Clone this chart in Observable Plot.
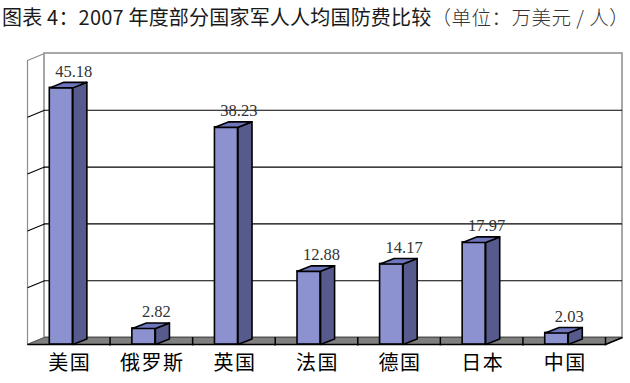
<!DOCTYPE html>
<html>
<head>
<meta charset="utf-8">
<script src="https://cdn.jsdelivr.net/npm/d3@7"></script>
<script src="https://cdn.jsdelivr.net/npm/@observablehq/plot@0.6"></script>
<style>
  html, body { margin: 0; padding: 0; background: #fff; }
  #title { height: 38px; line-height: 34px; padding-left: 2px; white-space: nowrap;
           font-family: "Noto Sans CJK SC", sans-serif; font-size: 20px; color: #1a1a1a; letter-spacing: 0.2px; }
  #title .unit { font-weight: 300; color: #333; font-size: 19.5px; letter-spacing: 0.5px; }
  svg { overflow: visible; }
  #chart g[aria-label="text"]:last-of-type text { letter-spacing: 1.5px; }
</style>
</head>
<body>
<div id="title">图表 4：2007 年度部分国家军人人均国防费比较<span class="unit">（单位：万美元 / 人）</span></div>
<div id="chart"></div>
<script>
const categories = ["美国", "俄罗斯", "英国", "法国", "德国", "日本", "中国"];
const values = [45.18, 2.82, 38.23, 12.88, 14.17, 17.97, 2.03];
const gridValues = [10, 20, 30, 40];
const yMax = 50;

const n = categories.length;
const DX = 0.206, DY = 1.23;     // wall depth (data units)
const BDX = 0.17, BDY = 0.97;    // bar depth (data units)
const X0 = 0.27, W = 0.279;      // bar front face offset and width within a band

const bars = categories.map((c, i) => ({c, i, v: values[i]}));

const sidePts = bars.flatMap(b => {
  const a = b.i + X0 + W;
  return [
    {id: b.i, x: a, y: 0}, {id: b.i, x: a + BDX, y: BDY},
    {id: b.i, x: a + BDX, y: b.v + BDY}, {id: b.i, x: a, y: b.v}
  ];
});
const topPts = bars.flatMap(b => {
  const a = b.i + X0, e = a + W;
  return [
    {id: b.i, x: a, y: b.v}, {id: b.i, x: e, y: b.v},
    {id: b.i, x: e + BDX, y: b.v + BDY}, {id: b.i, x: a + BDX, y: b.v + BDY}
  ];
});
const leftWall = [{x: 0, y: 0}, {x: DX, y: DY}, {x: DX, y: yMax + DY}, {x: 0, y: yMax}];
const floor = [{x: 0, y: 0}, {x: n, y: 0}, {x: n + DX, y: DY}, {x: DX, y: DY}];
const backWall = [{x1: DX, x2: n + DX, y1: DY, y2: yMax + DY}];

const plot = Plot.plot({
  width: 630,
  height: 345,
  marginLeft: 27,
  marginRight: 25,
  marginTop: 22,
  marginBottom: 39,
  x: {domain: [0, n], axis: null},
  y: {domain: [0, yMax], axis: null},
  style: {background: "white"},
  marks: [
    Plot.line(leftWall, {x: "x", y: "y", curve: "linear-closed", fill: "white", stroke: "#8c8c8c", strokeWidth: 1.2}),
    Plot.rect(backWall, {x1: "x1", x2: "x2", y1: "y1", y2: "y2", fill: "white", stroke: "#8c8c8c", strokeWidth: 1.5}),
    Plot.ruleY(gridValues, {y: d => d + DY, x1: () => DX, x2: () => n + DX, stroke: "#000", strokeWidth: 1.1}),
    Plot.link(gridValues, {x1: () => 0, y1: d => d, x2: () => DX, y2: d => d + DY, stroke: "#000", strokeWidth: 1.1}),
    Plot.line(floor, {x: "x", y: "y", curve: "linear-closed", fill: "#7f7f7f", stroke: "#555", strokeWidth: 1}),
    Plot.link([0], {x1: () => 0, y1: () => 0, x2: () => n, y2: () => 0, stroke: "#000", strokeWidth: 1.6}),
    Plot.link([0], {x1: () => n, y1: () => 0, x2: () => n + DX, y2: () => DY, stroke: "#000", strokeWidth: 1.6}),
    Plot.ruleX(d3.range(1, n + 1), {x: d => d, y1: () => -0.25, y2: () => DY, stroke: "#000", strokeWidth: 1.5}),
    Plot.rect(bars, {x1: d => d.i + X0, x2: d => d.i + X0 + W, y1: () => 0, y2: "v", fill: "#8c92cf", stroke: "#000", strokeWidth: 1.6}),
    Plot.line(sidePts, {x: "x", y: "y", z: "id", curve: "linear-closed", fill: "#565a8c", stroke: "#000", strokeWidth: 1.6}),
    Plot.line(topPts, {x: "x", y: "y", z: "id", curve: "linear-closed", fill: "#6f75bd", stroke: "#000", strokeWidth: 1.6}),
    Plot.text(bars, {x: d => d.i + 0.5, y: "v", text: d => d.v.toFixed(2), dx: 5, dy: -11, lineAnchor: "bottom",
      fontFamily: "Liberation Serif", fontSize: 16.5, fill: "#333"}),
    Plot.text(bars, {x: d => d.i + 0.5, y: () => 0, text: "c", dy: 19, dx: 1,
      fontFamily: "Noto Sans CJK SC", fontSize: 20, fill: "#000"})
  ]
});
document.getElementById("chart").appendChild(plot);
</script>
</body>
</html>
